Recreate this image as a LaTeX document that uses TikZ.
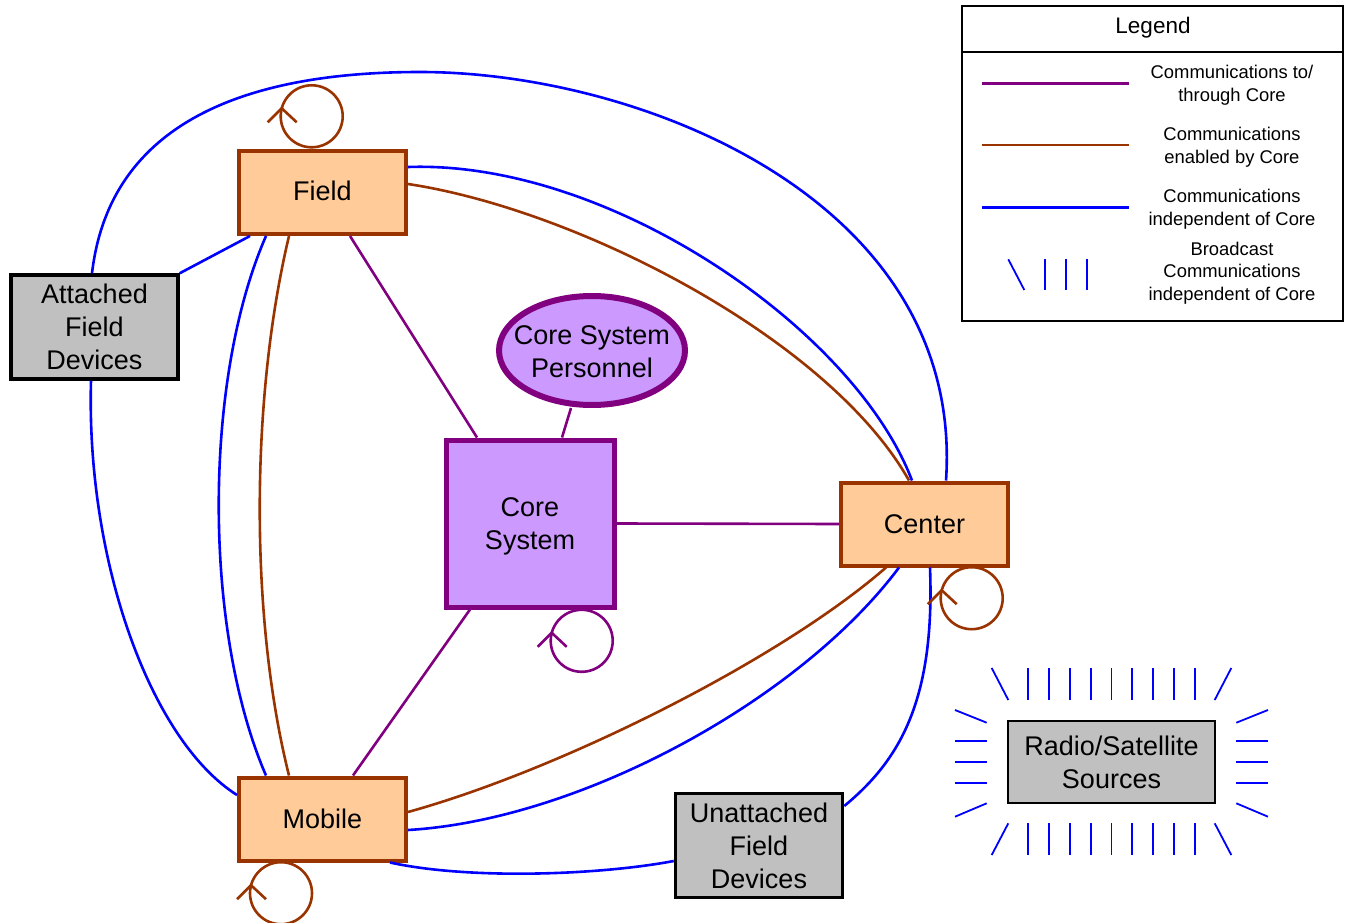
\documentclass[tikz,border=0pt]{standalone}
\usepackage{fontspec}
\setmainfont{Liberation Sans}
\usetikzlibrary{shapes.geometric,calc}
\definecolor{peach}{HTML}{FFCC99}
\definecolor{brn}{HTML}{993300}
\definecolor{purp}{HTML}{800080}
\definecolor{lilac}{HTML}{CC99FF}
\definecolor{grayf}{HTML}{C0C0C0}
\definecolor{blu}{HTML}{0000FF}
\begin{document}
\begin{tikzpicture}[x=1pt,y=-1pt,
 every node/.style={font=\fontsize{27}{33}\selectfont, align=center, inner sep=0pt},
 peachbox/.style={draw=brn, fill=peach, line width=4pt, minimum width=167pt, minimum height=83pt},
 corebox/.style={draw=purp, fill=lilac, line width=5pt, minimum width=168pt, minimum height=167pt},
 graybox/.style={draw=black, fill=grayf, line width=3.5pt, minimum width=167pt, minimum height=104pt},
 purpline/.style={draw=purp, line width=2.6pt},
 brnline/.style={draw=brn, line width=2.6pt},
 bluline/.style={draw=blu, line width=2.6pt},
 ray/.style={draw=blu, line width=1.8pt},
 legtext/.style={font=\fontsize{18.4}{22.5}\selectfont},
 selfloop/.pic={\draw (0,0) circle[radius=31pt]; \draw (-44,6) -- (-30,-8) -- (-15,6);}
]
\useasboundingbox (0,0) rectangle (1345,923);

% nodes
\node[peachbox] (field) at (322.5,192.5) {\parbox{160pt}{\centering Field\vspace*{3pt}}};
\node[peachbox] (ctr) at (924.5,524) {Center};
\node[peachbox] (mobile) at (322.5,819) {Mobile};
\node[corebox] (core) at (530,523.5) {\parbox{160pt}{\centering\vspace*{6pt}Core\\System}};
\node[ellipse, draw=purp, fill=lilac, line width=6pt, inner xsep=-20pt, inner ysep=-10pt, minimum width=186pt, minimum height=109pt] (pers) at (592,350.5) {\parbox{160pt}{\centering\vspace*{3pt}Core System\\Personnel}};
\node[graybox] (att) at (94.5,327) {Attached\\Field\\Devices};
\node[graybox] (unatt) at (759,845.5) {Unattached\\Field\\Devices};
\node[draw=black, fill=grayf, line width=2.5pt, minimum width=207pt, minimum height=82pt] (radio) at (1111.5,762) {Radio/Satellite\\Sources};

% purple connectors
\draw[purpline] ([xshift=27.5pt]field.south) -- ([xshift=-53pt]core.north);
\draw[purpline] ([xshift=-21pt]pers.south) -- ([xshift=32pt]core.north);
\draw[purpline] (core.east) -- (ctr.west);
\draw[purpline] ([xshift=-60pt]core.south) -- ([xshift=30.5pt]mobile.north);

% brown connectors
\draw[brnline] ([yshift=8.5pt]field.east) .. controls (580,210) and (830,340) .. ([xshift=-15.5pt]ctr.north);
\draw[brnline] ([xshift=-33.5pt]field.south) .. controls (250,400) and (250,620) .. ([xshift=-33.5pt]mobile.north);
\draw[brnline] ([xshift=-38.5pt]ctr.south) .. controls (780,660) and (560,770) .. ([yshift=7pt]mobile.east);

% blue connectors
\draw[bluline] ([xshift=-72.5pt]field.south) -- (att.north east);
\draw[bluline] ([xshift=-2.5pt]att.north) .. controls (110,120) and (250,72) .. (420,72) .. controls (640,72) and (965,200) .. ([xshift=21.5pt]ctr.north);
\draw[bluline] ([yshift=25.5pt]field.east) .. controls (610,160) and (855,330) .. ([xshift=-12.5pt]ctr.north);
\draw[bluline] ([xshift=-56.5pt]field.south) .. controls (203,380) and (203,630) .. ([xshift=-56.5pt]mobile.north);
\draw[bluline] ([xshift=-3.5pt]att.south) .. controls (86,560) and (150,740) .. ([yshift=24pt]mobile.west);
\draw[bluline] ([xshift=-25.5pt]ctr.south) .. controls (800,700) and (580,820) .. ([yshift=-11pt]mobile.east);
\draw[bluline] ([xshift=5.5pt]ctr.south) .. controls (935,700) and (900,760) .. ([yshift=39.5pt]unatt.east);
\draw[bluline] ([xshift=67.5pt]mobile.south) .. controls (470,880) and (600,875) .. ([yshift=-15.5pt]unatt.west);

% self loops
\pic[color=brn, line width=2.6pt] at ($(field.north)+(-10.8,-32.7)$) {selfloop};
\pic[color=purp, line width=2.6pt] at ($(core.south)+(51.7,31.3)$) {selfloop};
\pic[color=brn, line width=2.6pt] at ($(ctr.south)+(47.2,30.7)$) {selfloop};
\pic[color=brn, line width=2.6pt] at ($(mobile.south)+(-41.5,30.7)$) {selfloop};

% broadcast rays
\foreach \dx in {-83.2,-62.4,-41.6,-20.8,0,20.8,41.6,62.4,83.2} {
  \draw[ray] ($(radio)+(\dx,-94)$) -- ($(radio)+(\dx,-62)$);
  \draw[ray] ($(radio)+(\dx,61.3)$) -- ($(radio)+(\dx,93)$);
}
\draw[ray] ($(radio)+(-119.8,-94)$) -- ($(radio)+(-103.2,-62)$);
\draw[ray] ($(radio)+(119.8,-94)$) -- ($(radio)+(103.2,-62)$);
\draw[ray] ($(radio)+(-119.8,93)$) -- ($(radio)+(-103.2,61.3)$);
\draw[ray] ($(radio)+(119.8,93)$) -- ($(radio)+(103.2,61.3)$);
\foreach \dy in {-21,0,21} {
  \draw[ray] ($(radio)+(-156.5,\dy)$) -- ($(radio)+(-124.8,\dy)$);
  \draw[ray] ($(radio)+(156.5,\dy)$) -- ($(radio)+(124.8,\dy)$);
}
\draw[ray] ($(radio)+(-156.5,-52)$) -- ($(radio)+(-124.8,-39.3)$);
\draw[ray] ($(radio)+(-156.5,54.7)$) -- ($(radio)+(-124.8,41.3)$);
\draw[ray] ($(radio)+(156.5,-52)$) -- ($(radio)+(124.8,-39.3)$);
\draw[ray] ($(radio)+(156.5,54.7)$) -- ($(radio)+(124.8,41.3)$);

% legend
\draw[line width=1.3pt] (962,6) rectangle (1343,321);
\draw[line width=1.3pt] (962,52) -- (1343,52);
\node[font=\fontsize{22.5}{26}\selectfont] (legtitle) at (1153,28) {Legend};
\draw[purpline] (982,83.3) -- (1129,83.3);
\draw[brnline] (982,145) -- (1129,145);
\draw[bluline] (982,207.3) -- (1129,207.3);
\draw[ray] (1008.3,259.3) -- (1024.3,290);
\draw[ray] (1045,259.3) -- (1045,290);
\draw[ray] (1065.7,259.3) -- (1065.7,290);
\draw[ray] (1086.7,259.3) -- (1086.7,290);
\node[legtext] (l1) at (1232,85) {Communications to/\\through Core};
\node[legtext] (l2) at (1232,147) {Communications\\enabled by Core};
\node[legtext] (l3) at (1232,209) {Communications\\independent of Core};
\node[legtext] (l4) at (1232,273) {Broadcast\\Communications\\independent of Core};
\end{tikzpicture}
\end{document}
